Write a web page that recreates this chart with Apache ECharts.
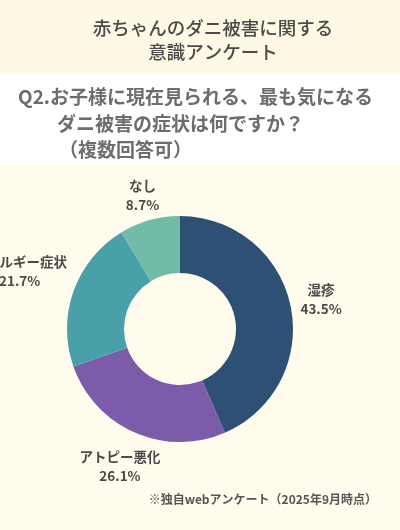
<!DOCTYPE html>
<html>
<head>
<meta charset="utf-8">
<script src="https://cdn.jsdelivr.net/npm/echarts@6/dist/echarts.min.js"></script>
<style>
  html, body { margin: 0; padding: 0; background: #fffcee; }
  #chart { width: 400px; height: 530px; }
</style>
</head>
<body>
<div id="chart"></div>
<script>
var categories = ['湿疹', 'アトピー悪化', 'アレルギー症状', 'なし'];
var percentValues = [43.5, 26.1, 21.7, 8.7];
var sliceColors = ['#2e5075', '#7d5bab', '#4aa0a8', '#72bba9'];
var titleLines = ['赤ちゃんのダニ被害に関する', '意識アンケート'];
var questionLines = ['Q2.お子様に現在見られる、最も気になる', 'ダニ被害の症状は何ですか？', '（複数回答可）'];
var footnote = '※独自webアンケート（2025年9月時点）';

var CX = 180, CY = 329, R_IN = 56, R_OUT = 113, GAP = 8;
var FONT = '"Noto Sans CJK JP", "Noto Sans", sans-serif';
var total = percentValues.reduce(function (a, b) { return a + b; }, 0);

var chart = echarts.init(document.getElementById('chart'));
chart.setOption({
  backgroundColor: '#fffcee',
  animation: false,
  graphic: [
    { type: 'rect', shape: { x: 0, y: 0, width: 400, height: 74 }, style: { fill: '#fdf9e4' }, silent: true },
    { type: 'rect', shape: { x: 0, y: 74, width: 400, height: 89 }, style: { fill: '#ffffff' }, silent: true },
    { type: 'text', x: 213, y: 28, style: { text: titleLines[0], fontFamily: FONT, fontSize: 18.5, fontWeight: 500, fill: '#4a4a4a', align: 'center', verticalAlign: 'middle' } },
    { type: 'text', x: 213, y: 52, style: { text: titleLines[1], fontFamily: FONT, fontSize: 18.5, fontWeight: 500, fill: '#4a4a4a', align: 'center', verticalAlign: 'middle' } },
    { type: 'text', x: 18, y: 97, style: { text: questionLines[0], fontFamily: FONT, fontSize: 19, fontWeight: 'bold', fill: '#6d6d6d', align: 'left', verticalAlign: 'middle' } },
    { type: 'text', x: 57, y: 124, style: { text: questionLines[1], fontFamily: FONT, fontSize: 19, fontWeight: 'bold', fill: '#6d6d6d', align: 'left', verticalAlign: 'middle' } },
    { type: 'text', x: 59, y: 150, style: { text: questionLines[2], fontFamily: FONT, fontSize: 19, fontWeight: 'bold', fill: '#6d6d6d', align: 'left', verticalAlign: 'middle' } },
    { type: 'text', x: 377, y: 499, style: { text: footnote, fontFamily: FONT, fontSize: 12, fontWeight: 'bold', fill: '#555555', align: 'right', verticalAlign: 'middle' } }
  ],
  series: [{
    type: 'pie',
    center: [CX, CY],
    radius: [R_IN, R_OUT],
    startAngle: 90,
    clockwise: true,
    avoidLabelOverlap: false,
    itemStyle: { borderWidth: 0 },
    emphasis: { disabled: true },
    data: categories.map(function (c, i) {
      return { name: c, value: percentValues[i], itemStyle: { color: sliceColors[i] } };
    }),
    label: {
      show: true,
      position: 'outside',
      formatter: function (p) { return p.name + '\n' + p.value.toFixed(1) + '%'; },
      fontFamily: FONT,
      fontSize: 13.5,
      fontWeight: 'bold',
      color: '#4a4a4a',
      lineHeight: 19,
      align: 'center'
    },
    labelLine: { show: false },
    labelLayout: function (p) {
      var i = p.dataIndex, before = 0;
      for (var k = 0; k < i; k++) before += percentValues[k];
      var mid = (before + percentValues[i] / 2) / total * Math.PI * 2;
      var dx = Math.sin(mid), dy = -Math.cos(mid);
      var w = p.labelRect.width, h = p.labelRect.height - 10;
      var d = R_OUT + GAP + Math.abs(dx) * w / 2 + Math.abs(dy) * h / 2;
      return { x: CX + dx * d, y: CY + dy * d, align: 'center', verticalAlign: 'middle' };
    }
  }]
});
</script>
</body>
</html>
